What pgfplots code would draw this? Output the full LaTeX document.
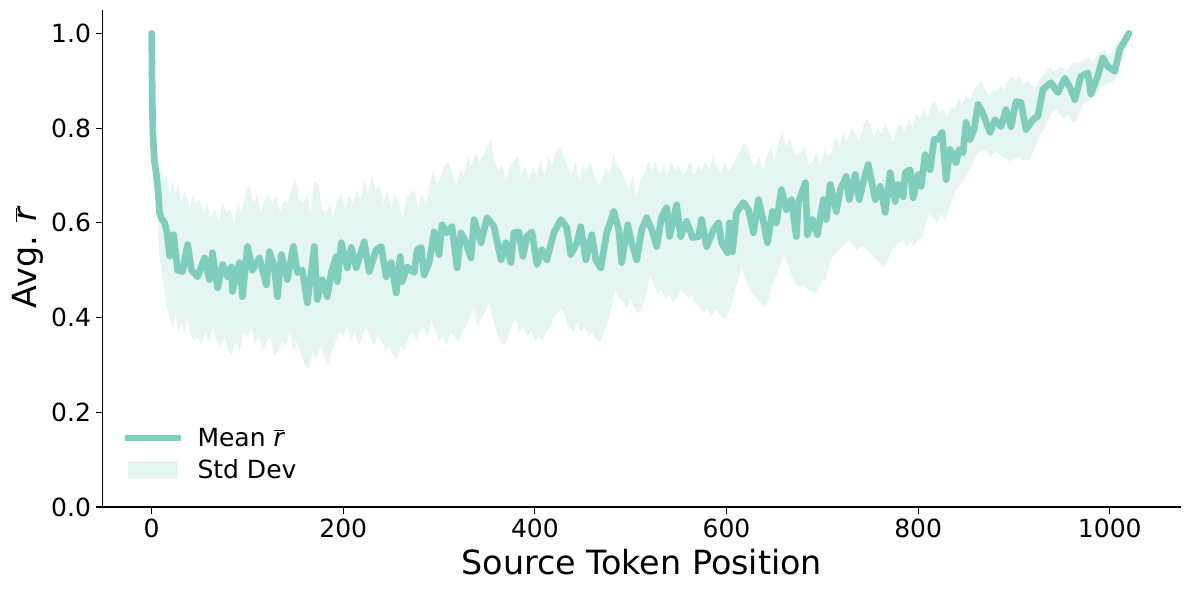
\documentclass[border=0pt]{standalone}
\usepackage{fontspec}
\setmainfont{DejaVu Sans}
\usepackage{pgfplots}
\pgfplotsset{compat=1.18}
\usepgfplotslibrary{fillbetween}
\definecolor{cMean}{HTML}{7FCDBB}
\definecolor{cStd}{HTML}{E5F5F1}
\newcommand{\rbar}{$\overline{\textit{r}}$}

% mean r-bar per source position
\pgfplotstableread{
x y
0 1.0
0.5 0.90
1 0.81
2 0.76
3 0.73
5 0.70
7 0.66
8.3 0.62
10 0.61
13.5 0.60
16 0.58
18.8 0.53
22.9 0.575
27.1 0.50
32.3 0.497
37.5 0.554
41.7 0.50
47.9 0.486
55.2 0.526
60.4 0.48
63.5 0.537
68.8 0.463
74 0.512
79.2 0.486
83.3 0.507
84.4 0.455
91.7 0.516
94.8 0.444
100 0.55
105.2 0.50
112.5 0.526
119.8 0.469
122.9 0.539
128.1 0.507
131.3 0.444
135.4 0.533
141.7 0.48
147.9 0.55
152.1 0.495
157.3 0.50
162.5 0.431
169.8 0.55
172.9 0.438
178.1 0.48
183.3 0.444
187.5 0.495
192.7 0.529
193.8 0.476
197.9 0.558
204.2 0.505
208.3 0.548
213.5 0.505
221.9 0.56
227.1 0.497
234.4 0.543
239.6 0.55
244.8 0.486
250 0.516
255.2 0.452
259.4 0.529
261.5 0.476
266.7 0.507
274 0.495
277.1 0.543
281.3 0.548
284.4 0.49
289.6 0.516
294.8 0.581
300 0.533
303.1 0.596
308.3 0.579
313.5 0.592
318.8 0.505
322.9 0.579
328.1 0.558
333.3 0.526
336.5 0.607
343.8 0.558
350 0.611
357.3 0.592
364.6 0.522
369.8 0.558
375 0.516
378.1 0.579
383.3 0.581
387.5 0.529
391.7 0.571
396.9 0.581
402.1 0.512
407.3 0.543
412.5 0.522
419.8 0.579
427.1 0.607
433.3 0.59
437.5 0.533
443.8 0.558
447.9 0.592
453.1 0.522
459.4 0.575
463.5 0.522
468.8 0.505
475 0.579
482.3 0.624
487.5 0.586
490.6 0.516
496.9 0.596
501 0.558
506.3 0.522
511.5 0.586
516.7 0.611
521.9 0.586
527.1 0.55
532.3 0.613
537.5 0.632
540.6 0.571
547.9 0.638
552.1 0.571
558.3 0.603
564.6 0.569
570.8 0.571
574 0.607
579.2 0.55
586.5 0.586
591.7 0.60
594.8 0.558
601 0.537
603.1 0.60
606.3 0.539
610.4 0.622
617.7 0.643
622.9 0.628
628.1 0.579
633.3 0.649
638.5 0.603
642.7 0.558
647.9 0.624
652.1 0.60
657.3 0.67
662.5 0.628
667.7 0.649
672.9 0.571
675 0.643
682.3 0.685
684.4 0.575
689.6 0.607
694.8 0.575
701 0.649
704.2 0.607
708.3 0.681
714.6 0.624
718.8 0.67
725 0.698
728.1 0.649
734.4 0.702
738.5 0.649
742.7 0.685
747.9 0.723
755.2 0.649
760.4 0.677
765.6 0.622
770.8 0.706
776 0.645
779.2 0.681
784.4 0.655
786.5 0.706
791.7 0.712
794.8 0.653
800 0.702
803.1 0.677
807.3 0.744
812.5 0.712
816.7 0.776
820.8 0.776
825 0.791
829.2 0.691
833.3 0.755
839.6 0.727
842.7 0.755
846.9 0.748
850 0.812
854.2 0.776
858.3 0.797
862.5 0.85
866.7 0.835
870.8 0.814
875 0.791
880.2 0.818
886.5 0.803
891.7 0.839
896.9 0.803
902.1 0.856
907.3 0.854
912.5 0.797
919.8 0.818
925 0.825
930.2 0.882
938.5 0.896
945.8 0.875
953.1 0.905
959.4 0.882
963.5 0.86
969.8 0.909
977.1 0.917
980.2 0.872
987.5 0.91
992.7 0.948
997.9 0.93
1005.2 0.92
1010.4 0.966
1015.6 0.984
1020 1.0
}\meantab

% mean + std
\pgfplotstableread{
x y
0 1.0
2 0.80
4 0.74
6 0.73
8 0.715
10 0.71
13 0.69
16 0.70
19 0.66
22 0.69
25 0.66
28 0.68
31 0.64
34 0.67
37 0.65
40 0.63
43 0.66
46 0.64
50 0.65
54 0.62
58 0.64
62 0.61
66 0.63
70 0.60
74 0.645
78 0.62
82 0.63
86 0.60
90 0.64
94 0.62
98 0.66
102 0.68
106 0.64
110 0.66
114 0.62
118 0.65
122 0.66
126 0.64
130 0.66
134 0.62
138 0.65
142 0.64
146 0.67
150 0.69
154 0.65
158 0.64
162 0.66
166 0.62
170 0.69
174 0.68
178 0.63
182 0.62
186 0.64
190 0.61
194 0.65
198 0.66
202 0.63
206 0.66
210 0.64
214 0.67
218 0.65
222 0.69
226 0.66
230 0.70
234 0.67
238 0.68
242 0.64
246 0.67
250 0.63
254 0.66
258 0.64
262 0.61
266 0.65
270 0.66
274 0.67
278 0.63
282 0.66
286 0.64
290 0.68
294 0.71
298 0.68
302 0.70
306 0.72
310 0.73
314 0.70
318 0.68
322 0.71
326 0.70
330 0.74
334 0.72
338 0.75
342 0.73
346 0.74
350 0.76
354 0.775
358 0.73
362 0.71
366 0.72
370 0.69
374 0.72
378 0.73
382 0.74
386 0.70
390 0.72
394 0.69
398 0.72
402 0.70
406 0.73
410 0.70
414 0.74
418 0.72
422 0.75
426 0.76
430 0.74
434 0.72
438 0.70
442 0.73
446 0.69
450 0.72
454 0.71
458 0.73
462 0.70
466 0.68
470 0.69
474 0.72
478 0.70
482 0.745
486 0.72
490 0.71
494 0.69
498 0.67
502 0.70
506 0.655
510 0.69
514 0.70
518 0.73
522 0.71
526 0.73
530 0.70
534 0.72
538 0.70
542 0.73
546 0.71
550 0.72
554 0.70
558 0.71
562 0.73
566 0.70
570 0.72
574 0.71
578 0.73
582 0.71
586 0.74
590 0.72
594 0.70
598 0.73
602 0.71
606 0.72
610 0.74
614 0.75
618 0.77
622 0.76
626 0.73
630 0.72
634 0.74
638 0.71
642 0.74
646 0.76
650 0.73
654 0.77
658 0.79
662 0.76
666 0.78
670 0.75
674 0.74
678 0.75
682 0.76
686 0.72
690 0.73
694 0.75
698 0.72
702 0.755
706 0.74
710 0.75
714 0.78
718 0.76
722 0.79
726 0.77
730 0.80
734 0.79
738 0.77
742 0.80
746 0.82
750 0.81
754 0.78
758 0.80
762 0.79
766 0.81
770 0.79
774 0.77
778 0.80
782 0.81
786 0.79
790 0.82
794 0.80
798 0.83
802 0.82
806 0.84
810 0.82
814 0.85
818 0.855
822 0.83
826 0.84
830 0.82
834 0.845
838 0.84
842 0.86
846 0.85
850 0.87
854 0.86
858 0.88
862 0.89
866 0.90
870 0.88
874 0.87
878 0.88
882 0.875
886 0.89
890 0.88
894 0.90
898 0.91
902 0.90
906 0.91
910 0.89
914 0.90
918 0.89
922 0.885
926 0.90
930 0.91
934 0.92
938 0.93
942 0.92
946 0.925
950 0.93
954 0.92
958 0.93
962 0.94
966 0.935
970 0.94
974 0.945
978 0.95
982 0.94
986 0.95
990 0.96
994 0.965
998 0.955
1002 0.96
1006 0.975
1010 0.985
1014 0.99
1018 0.995
1020 1.0
}\uptab

% mean - std
\pgfplotstableread{
x y
0 1.0
2 0.76
4 0.70
6 0.62
8 0.53
10 0.50
13 0.46
16 0.42
19 0.40
22 0.38
25 0.41
28 0.37
31 0.39
34 0.37
37 0.40
40 0.37
44 0.35
48 0.36
52 0.34
56 0.37
60 0.35
64 0.38
68 0.35
72 0.34
76 0.36
80 0.33
84 0.32
88 0.35
92 0.33
96 0.37
100 0.36
104 0.38
108 0.34
112 0.36
116 0.33
120 0.35
124 0.36
128 0.32
132 0.33
136 0.35
140 0.34
144 0.37
148 0.33
152 0.35
156 0.32
160 0.30
164 0.29
168 0.33
172 0.31
176 0.34
180 0.32
184 0.30
188 0.33
192 0.35
196 0.37
200 0.36
204 0.38
208 0.35
212 0.37
216 0.34
220 0.36
224 0.38
228 0.36
232 0.34
236 0.36
240 0.35
244 0.33
248 0.34
252 0.32
256 0.31
260 0.34
264 0.33
268 0.36
272 0.37
276 0.35
280 0.37
284 0.38
288 0.36
292 0.395
296 0.37
300 0.35
304 0.36
308 0.34
312 0.37
316 0.36
320 0.35
324 0.37
328 0.38
332 0.40
336 0.42
340 0.38
344 0.40
348 0.41
352 0.43
356 0.40
360 0.37
364 0.35
368 0.34
372 0.36
376 0.38
380 0.40
384 0.37
388 0.38
392 0.36
396 0.37
400 0.35
404 0.36
408 0.35
412 0.37
416 0.38
420 0.40
424 0.41
428 0.42
432 0.40
436 0.38
440 0.37
444 0.39
448 0.37
452 0.38
456 0.36
460 0.37
464 0.35
468 0.35
472 0.37
476 0.39
480 0.42
484 0.46
488 0.44
492 0.43
496 0.42
500 0.44
504 0.42
508 0.41
512 0.42
516 0.45
520 0.49
524 0.47
528 0.45
532 0.46
536 0.44
540 0.45
544 0.43
548 0.44
552 0.46
556 0.45
560 0.44
564 0.45
568 0.43
572 0.42
576 0.41
580 0.42
584 0.40
588 0.42
592 0.41
596 0.40
600 0.395
604 0.42
608 0.45
612 0.48
616 0.505
620 0.48
624 0.46
628 0.45
632 0.44
636 0.43
640 0.42
644 0.44
648 0.47
652 0.49
656 0.51
660 0.535
664 0.51
668 0.49
672 0.47
676 0.465
680 0.47
684 0.46
688 0.455
692 0.45
696 0.46
700 0.48
704 0.48
708 0.52
712 0.53
716 0.54
720 0.55
724 0.555
728 0.565
732 0.55
736 0.54
740 0.55
744 0.55
748 0.54
752 0.53
756 0.52
760 0.515
764 0.505
768 0.52
772 0.54
776 0.55
780 0.56
784 0.565
788 0.55
792 0.56
796 0.55
800 0.565
804 0.57
808 0.60
812 0.62
816 0.61
820 0.60
824 0.62
828 0.605
832 0.63
836 0.65
840 0.67
844 0.68
848 0.69
852 0.71
856 0.72
860 0.74
864 0.75
868 0.755
872 0.75
876 0.74
880 0.75
884 0.745
888 0.74
892 0.735
896 0.73
900 0.735
904 0.74
908 0.73
912 0.735
916 0.73
920 0.75
924 0.77
928 0.79
932 0.80
936 0.82
940 0.835
944 0.84
948 0.83
952 0.82
956 0.83
960 0.815
964 0.81
968 0.83
972 0.85
976 0.855
980 0.86
984 0.87
988 0.88
992 0.89
996 0.89
1000 0.895
1004 0.90
1008 0.91
1012 0.94
1016 0.97
1020 1.0
}\lotab

\begin{document}
\begin{tikzpicture}
\begin{axis}[
  scale only axis, width=776pt, height=358pt,
  xmin=-51, xmax=1074, ymin=0, ymax=1.05,
  axis lines*=left,
  axis line style={line width=0.8pt},
  xtick={0,200,400,600,800,1000},
  ytick={0,0.2,0.4,0.6,0.8,1.0},
  tick align=outside, major tick length=5pt,
  tick style={black, line width=0.8pt},
  /pgf/number format/assume math mode=true,
  /pgf/number format/1000 sep={},
  yticklabel style={/pgf/number format/fixed, /pgf/number format/fixed zerofill, /pgf/number format/precision=1},
  ticklabel style={font=\fontsize{18}{21}\selectfont},
  every axis x label/.style={at={(axis description cs:0.5,0)}, yshift=-40pt, anchor=center,
    font=\fontsize{24}{28}\selectfont},
  every axis y label/.style={at={(axis description cs:0,0.5)}, xshift=-54pt, rotate=90, anchor=center,
    font=\fontsize{24}{28}\selectfont},
  xlabel={Source Token Position},
  ylabel={Avg. \rbar},
  reverse legend,
  legend cell align=left,
  legend style={at={(axis description cs:0,0)}, anchor=south west,
    xshift=14pt, yshift=17pt, inner sep=0pt, draw=none, fill=none,
    font=\fontsize{18}{22}\selectfont, row sep=4pt},
]
\addplot[name path=up, draw=none, forget plot] table[x=x,y=y] {\uptab};
\addplot[name path=lo, draw=none, forget plot] table[x=x,y=y] {\lotab};
\addplot[fill=cStd, draw=none,
  legend image code/.code={\path[draw=none, fill=none] (0pt,0pt) -- (50pt,0pt);
    \fill[cStd] (2pt,-6.5pt) rectangle (38pt,6.5pt);}]
  fill between[of=up and lo];
\addlegendentry{Std Dev}
\addplot[cMean, line width=4.8pt, line join=round, line cap=round,
  legend image code/.code={\path[draw=none, fill=none] (0pt,0pt) -- (50pt,0pt);
    \draw[cMean, line width=4pt, line cap=butt] (0pt,0pt) -- (40pt,0pt);}]
  table[x=x,y=y] {\meantab};
\addlegendentry{Mean \rbar}
\end{axis}
\pgfresetboundingbox
\path ([shift={(-74pt,-60pt)}]current axis.south west) rectangle ([shift={(6pt,7pt)}]current axis.north east);
\end{tikzpicture}
\end{document}
